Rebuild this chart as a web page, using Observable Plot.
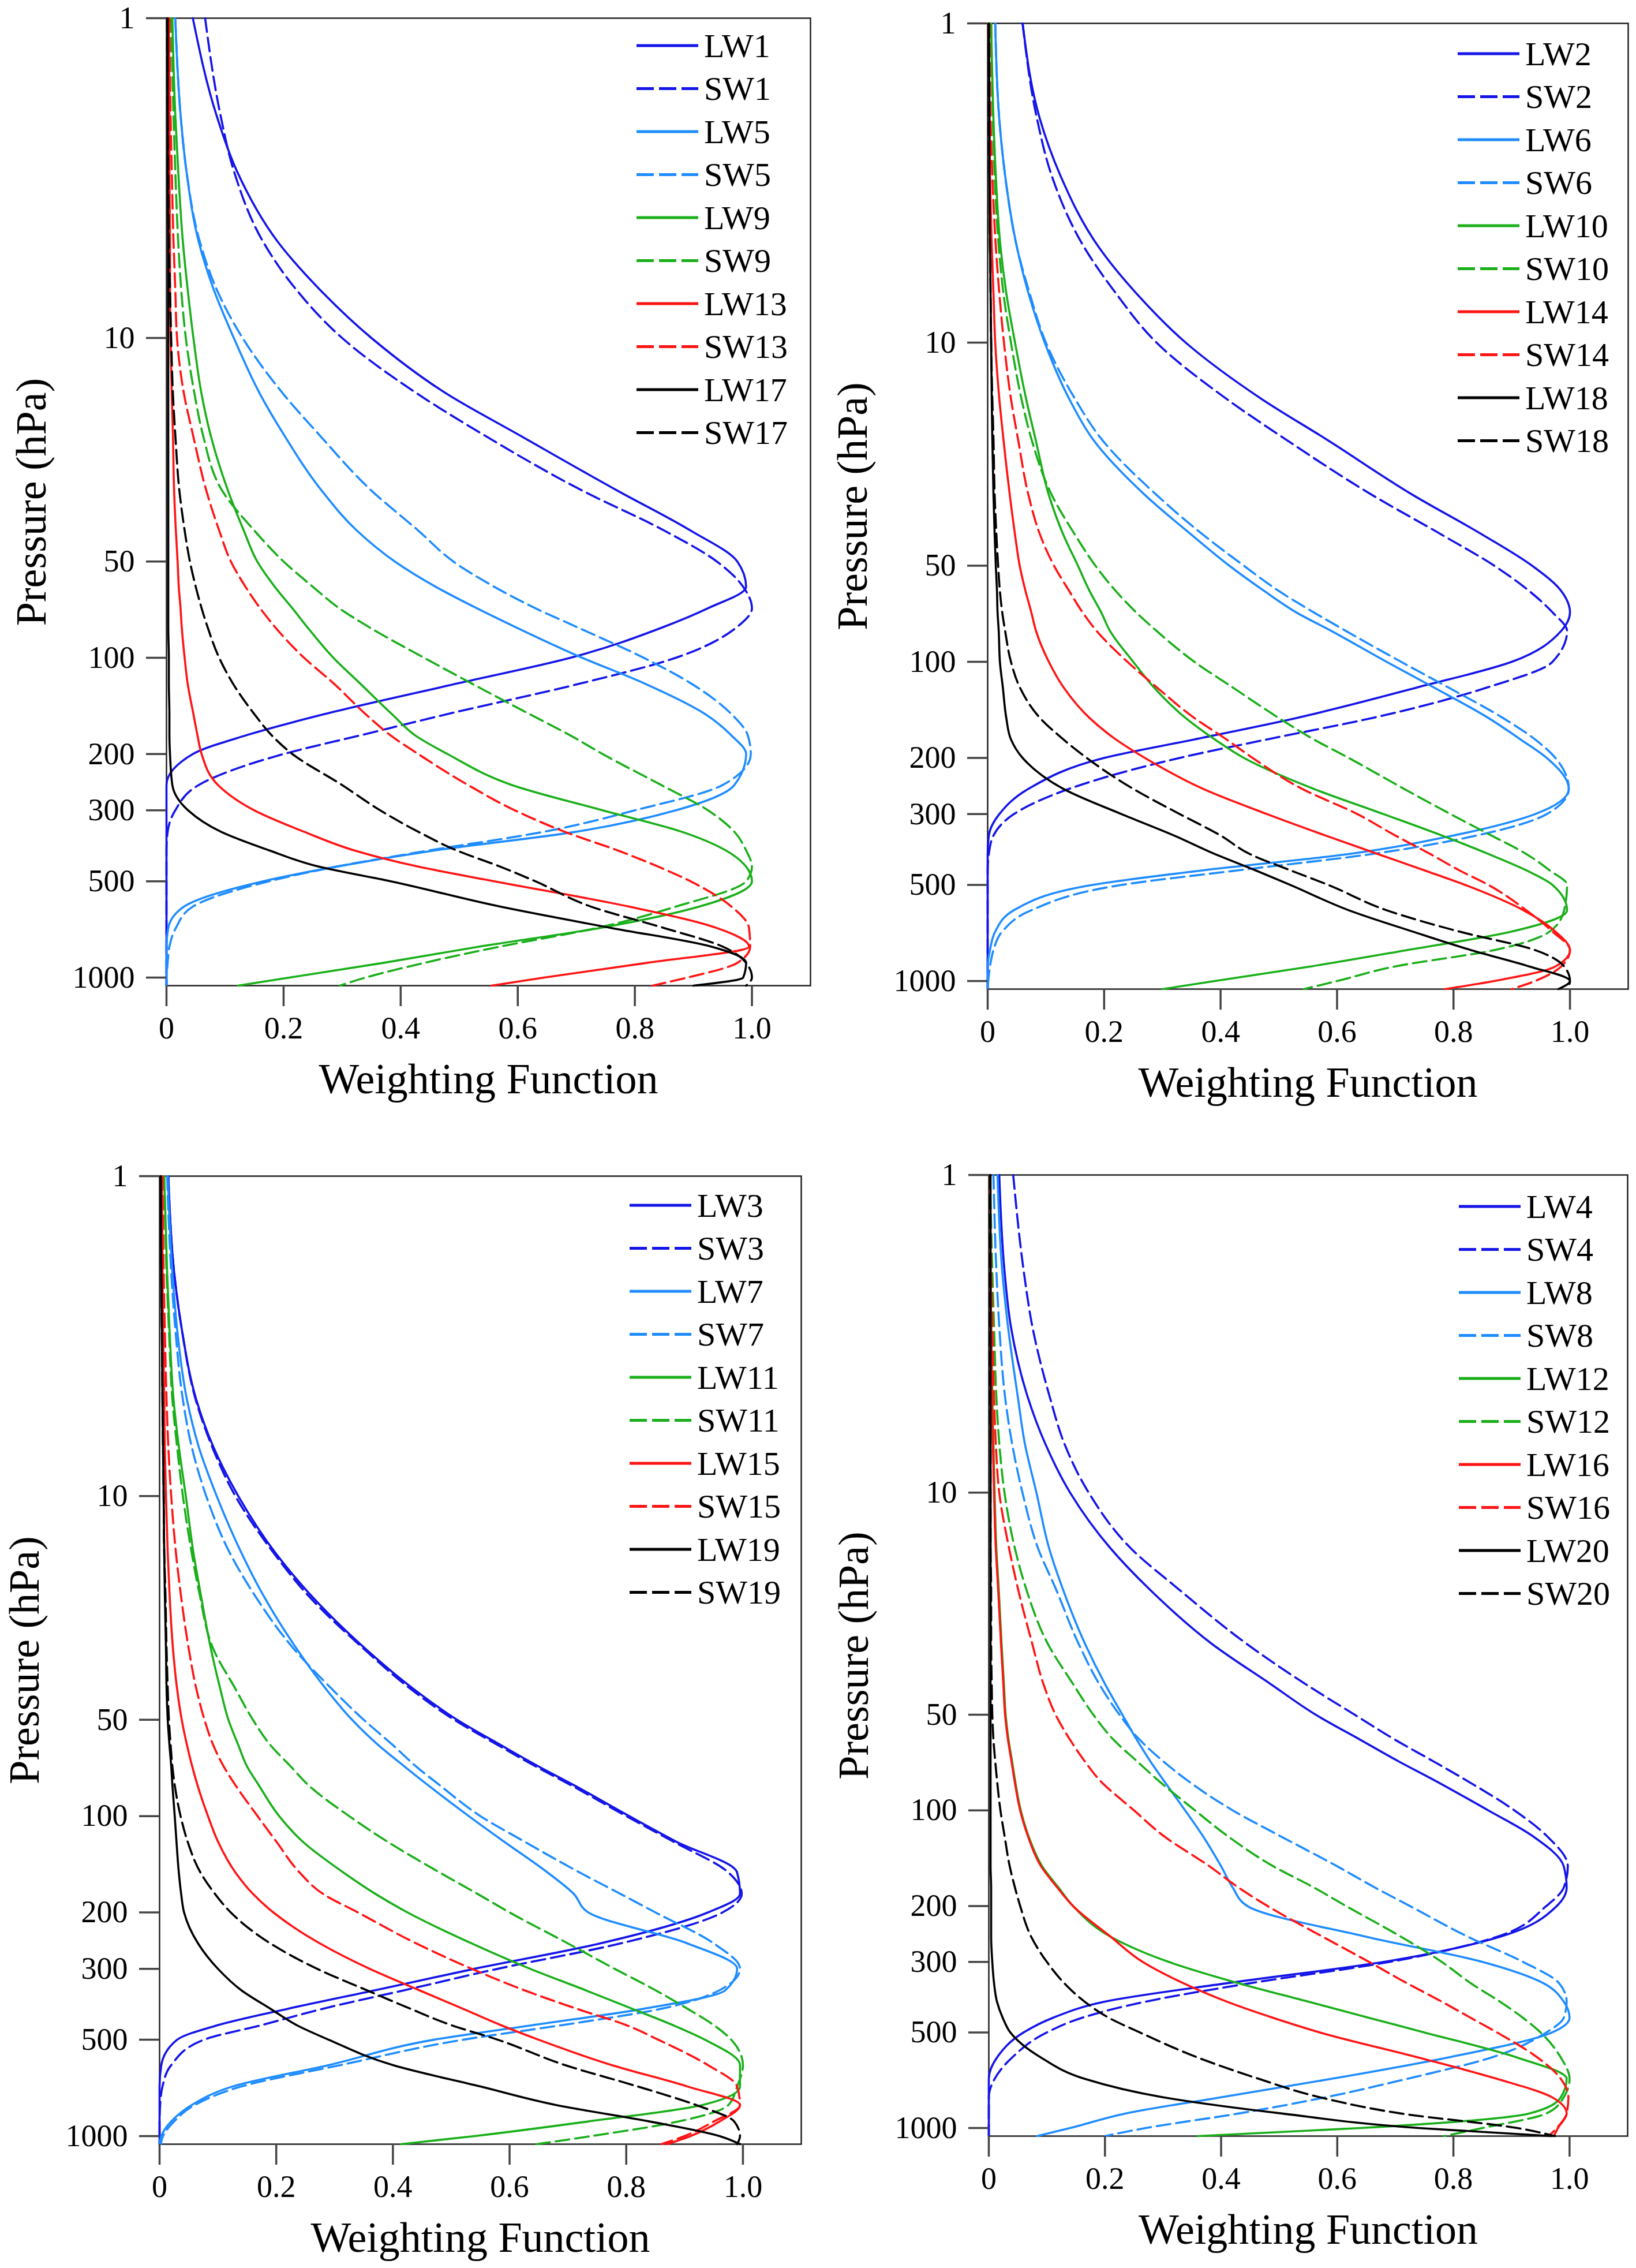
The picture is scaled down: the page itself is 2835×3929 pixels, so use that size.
<!DOCTYPE html>
<html>
<head>
<meta charset="utf-8">
<script src="https://cdn.jsdelivr.net/npm/d3@7"></script>
<script src="https://cdn.jsdelivr.net/npm/@observablehq/plot@0.6"></script>
<style>
html, body { margin: 0; padding: 0; background: #fff; }
#page { position: relative; width: 2835px; height: 3929px; overflow: hidden; background: #fff; }
.panel { position: absolute; }
.panel svg { display: block; }
</style>
</head>
<body>
<div id="page"></div>
<script>
// ---------------- DATA ----------------
// Pressure levels (hPa) shared by every profile
const P = [1,2,3,5,7, 10,15,20,30,40, 50,60,70,80,100, 120,150,175,200,250, 300,350,400,450,500, 600,700,800,900,1000, 1060];

const xTicks = [0, 0.2, 0.4, 0.6, 0.8, 1.0];
const yTicks = [1, 10, 50, 100, 200, 300, 500, 1000];

// Panel 1
const LW1  = [0.045,0.085,0.12,0.19,0.26, 0.35,0.48,0.60,0.77,0.895, 0.975,0.99,0.925,0.85,0.69, 0.50,0.27,0.135,0.045,0, 0,0,0,0,0, 0,0,0,0,0, 0];
const SW1  = [0.066,0.092,0.115,0.165,0.22, 0.30,0.43,0.54,0.71,0.85, 0.94,0.985,1.0,0.975,0.87, 0.71,0.48,0.33,0.20,0.055, 0.015,0.002,0,0,0, 0,0,0,0,0, 0];
const LW5  = [0.015,0.024,0.034,0.055,0.08, 0.115,0.16,0.20,0.265,0.325, 0.39,0.46,0.53,0.595,0.71, 0.815,0.92,0.965,0.99,0.97, 0.87,0.70,0.46,0.29,0.165, 0.03,0.003,0,0,0, 0];
const SW5  = [0.015,0.024,0.034,0.057,0.085, 0.13,0.20,0.26,0.35,0.43, 0.49,0.56,0.63,0.70,0.815, 0.895,0.965,0.993,0.998,0.95, 0.80,0.645,0.45,0.29,0.175, 0.045,0.016,0.005,0.002,0, 0];
const LW9  = [0.01,0.015,0.02,0.028,0.036, 0.046,0.06,0.075,0.105,0.132, 0.155,0.185,0.215,0.24,0.285, 0.33,0.385,0.425,0.48,0.59, 0.745,0.88,0.955,0.99,1.0, 0.91,0.74,0.535,0.37,0.21, 0.122];
const SW9  = [0.008,0.012,0.015,0.02,0.025, 0.033,0.048,0.062,0.095,0.15, 0.20,0.25,0.295,0.345,0.44, 0.52,0.62,0.69,0.745,0.845, 0.925,0.97,0.99,1.0,0.99, 0.87,0.735,0.57,0.44,0.34, 0.296];
const LW13 = [0.004,0.005,0.005,0.006,0.006, 0.007,0.009,0.011,0.013,0.016, 0.019,0.021,0.024,0.026,0.031, 0.036,0.046,0.053,0.06,0.088, 0.15,0.235,0.32,0.43,0.56, 0.79,0.94,0.995,0.82,0.645, 0.555];
const SW13 = [0.005,0.007,0.009,0.012,0.015, 0.018,0.03,0.045,0.068,0.09, 0.11,0.135,0.16,0.185,0.235, 0.285,0.34,0.383,0.43,0.515, 0.595,0.68,0.77,0.84,0.895, 0.965,0.995,0.997,0.975,0.89, 0.83];
const LW17 = [0.002,0.002,0.002,0.003,0.003, 0.003,0.003,0.003,0.003,0.003, 0.003,0.003,0.003,0.003,0.004, 0.004,0.005,0.005,0.006,0.01, 0.037,0.093,0.175,0.26,0.383, 0.57,0.76,0.93,0.99,0.985, 0.90];
const SW17 = [0.001,0.002,0.003,0.004,0.006, 0.008,0.011,0.015,0.022,0.031, 0.04,0.05,0.06,0.07,0.09, 0.113,0.15,0.18,0.215,0.30, 0.365,0.43,0.495,0.57,0.63, 0.725,0.85,0.95,0.99,1.0, 0.99];

// Panel 2
const LW2  = [0.06,0.09,0.125,0.19,0.255, 0.34,0.47,0.58,0.73,0.85, 0.935,0.985,1.0,0.985,0.90, 0.74,0.53,0.355,0.20,0.07, 0.02,0.002,0,0,0, 0,0,0,0,0, 0];
const SW2  = [0.06,0.085,0.11,0.165,0.22, 0.29,0.41,0.51,0.66,0.78, 0.87,0.93,0.97,0.995,0.97, 0.86,0.66,0.48,0.33,0.14, 0.045,0.01,0.002,0,0, 0,0,0,0,0, 0];
const LW6  = [0.013,0.02,0.03,0.05,0.07, 0.098,0.14,0.18,0.27,0.35, 0.415,0.475,0.53,0.59,0.685, 0.765,0.86,0.915,0.96,0.998, 0.94,0.80,0.62,0.37,0.18, 0.045,0.013,0.004,0,0, 0];
const SW6  = [0.013,0.02,0.03,0.05,0.072, 0.10,0.15,0.195,0.29,0.37, 0.44,0.50,0.56,0.615,0.71, 0.79,0.885,0.94,0.975,0.998, 0.96,0.84,0.66,0.43,0.23, 0.075,0.025,0.01,0.004,0.001, 0];
const LW10 = [0.006,0.01,0.014,0.022,0.032, 0.047,0.066,0.082,0.105,0.13, 0.155,0.175,0.195,0.21,0.25, 0.285,0.34,0.39,0.44,0.56, 0.68,0.78,0.86,0.925,0.97, 0.995,0.90,0.72,0.555,0.39, 0.30];
const SW10 = [0.006,0.009,0.012,0.019,0.027, 0.04,0.058,0.075,0.11,0.15, 0.185,0.22,0.255,0.29,0.355, 0.42,0.50,0.56,0.62,0.715, 0.795,0.865,0.925,0.965,0.995, 0.99,0.965,0.87,0.70,0.60, 0.543];
const LW14 = [0.002,0.003,0.004,0.007,0.01, 0.013,0.02,0.027,0.038,0.047, 0.055,0.065,0.075,0.083,0.105, 0.13,0.175,0.22,0.27,0.37, 0.48,0.58,0.67,0.75,0.82, 0.92,0.975,1.0,0.975,0.87, 0.785];
const SW14 = [0.003,0.005,0.008,0.014,0.02, 0.028,0.04,0.052,0.07,0.09, 0.114,0.14,0.163,0.187,0.24, 0.29,0.355,0.41,0.455,0.54, 0.635,0.70,0.76,0.81,0.86, 0.925,0.97,1.0,0.985,0.94, 0.90];
const LW18 = [0.002,0.003,0.003,0.004,0.005, 0.006,0.007,0.008,0.01,0.012, 0.014,0.016,0.017,0.019,0.021, 0.026,0.032,0.04,0.06,0.13, 0.23,0.32,0.39,0.46,0.52, 0.62,0.73,0.83,0.93,1.0, 0.98];
const SW18 = [0.002,0.002,0.003,0.004,0.005, 0.006,0.008,0.01,0.012,0.015, 0.018,0.021,0.025,0.03,0.04, 0.055,0.09,0.13,0.17,0.25, 0.33,0.40,0.45,0.52,0.585, 0.685,0.81,0.94,0.99,1.0, 0.995];

// Panel 3
const LW3  = [0.015,0.025,0.038,0.063,0.092, 0.135,0.198,0.255,0.353,0.435, 0.51,0.585,0.65,0.71,0.805, 0.885,0.99,0.995,0.94,0.755, 0.54,0.37,0.22,0.10,0.03, 0.003,0,0,0,0, 0];
const SW3  = [0.015,0.025,0.038,0.062,0.09, 0.13,0.195,0.25,0.35,0.43, 0.505,0.58,0.645,0.705,0.80, 0.88,0.975,0.998,0.965,0.79, 0.58,0.42,0.28,0.175,0.076, 0.02,0.005,0.001,0,0, 0];
const LW7  = [0.014,0.022,0.03,0.047,0.067, 0.098,0.14,0.175,0.235,0.285, 0.33,0.375,0.42,0.46,0.53, 0.59,0.665,0.71,0.735,0.905, 0.99,0.97,0.83,0.64,0.47, 0.29,0.125,0.055,0.02,0.003, 0];
const SW7  = [0.013,0.02,0.027,0.04,0.055, 0.08,0.12,0.16,0.23,0.295, 0.35,0.40,0.44,0.48,0.55, 0.625,0.72,0.79,0.85,0.95, 0.995,0.96,0.86,0.69,0.52, 0.31,0.14,0.06,0.025,0.006, 0.002];
const LW11 = [0.008,0.013,0.017,0.024,0.033, 0.045,0.058,0.07,0.088,0.104, 0.118,0.135,0.15,0.17,0.205, 0.245,0.315,0.37,0.425,0.535, 0.635,0.73,0.81,0.88,0.935, 0.995,0.995,0.93,0.735,0.54, 0.414];
const SW11 = [0.008,0.012,0.016,0.022,0.03, 0.04,0.055,0.068,0.092,0.13, 0.16,0.19,0.225,0.255,0.325, 0.39,0.48,0.545,0.60,0.70, 0.78,0.85,0.905,0.95,0.98, 1.0,0.99,0.975,0.89,0.74, 0.646];
const LW15 = [0.004,0.005,0.006,0.008,0.009, 0.011,0.014,0.017,0.023,0.03, 0.038,0.047,0.056,0.065,0.083, 0.10,0.13,0.16,0.195,0.275, 0.36,0.445,0.52,0.585,0.65, 0.775,0.905,0.995,0.96,0.91, 0.87];
const SW15 = [0.005,0.007,0.009,0.012,0.015, 0.02,0.028,0.036,0.05,0.063, 0.077,0.092,0.11,0.13,0.168, 0.20,0.24,0.28,0.34,0.44, 0.535,0.625,0.715,0.80,0.855, 0.94,0.99,0.995,0.95,0.90, 0.86];
const LW19 = [0.002,0.003,0.004,0.005,0.006, 0.007,0.008,0.009,0.011,0.012, 0.014,0.017,0.02,0.022,0.026, 0.029,0.033,0.037,0.042,0.066, 0.10,0.14,0.19,0.235,0.29, 0.40,0.55,0.68,0.84,0.96, 0.995];
const SW19 = [0.002,0.003,0.004,0.005,0.006, 0.007,0.008,0.01,0.012,0.014, 0.016,0.019,0.022,0.026,0.036, 0.048,0.07,0.095,0.122,0.19, 0.27,0.355,0.43,0.50,0.58, 0.695,0.82,0.92,0.985,0.995, 0.99];

// Panel 4
const LW4  = [0.018,0.027,0.038,0.067,0.097, 0.14,0.21,0.275,0.385,0.485, 0.563,0.64,0.705,0.765,0.86, 0.935,0.99,0.995,0.978,0.88, 0.68,0.41,0.20,0.11,0.06, 0.014,0,0,0,0, 0];
const SW4  = [0.042,0.06,0.075,0.105,0.13, 0.172,0.245,0.325,0.445,0.545, 0.63,0.70,0.765,0.82,0.905, 0.96,0.997,0.99,0.96,0.875, 0.69,0.45,0.27,0.16,0.10, 0.04,0.01,0,0,0, 0];
const LW8  = [0.015,0.023,0.033,0.05,0.062, 0.082,0.104,0.127,0.166,0.20, 0.23,0.255,0.278,0.30,0.338, 0.368,0.40,0.42,0.445,0.65, 0.85,0.955,0.99,1.0,0.97, 0.79,0.59,0.40,0.235,0.14, 0.083];
const SW8  = [0.008,0.013,0.018,0.028,0.04, 0.058,0.085,0.115,0.155,0.19, 0.225,0.26,0.30,0.34,0.42, 0.50,0.60,0.665,0.725,0.825, 0.92,0.982,0.995,0.99,0.96, 0.865,0.72,0.58,0.43,0.27, 0.20];
const LW12 = [0.002,0.003,0.004,0.006,0.008, 0.01,0.013,0.017,0.022,0.026, 0.029,0.034,0.04,0.045,0.055, 0.068,0.092,0.12,0.145,0.21, 0.31,0.43,0.55,0.655,0.75, 0.91,0.995,0.985,0.93,0.64, 0.36];
const SW12 = [0.002,0.006,0.009,0.013,0.018, 0.027,0.045,0.064,0.102,0.145, 0.18,0.215,0.255,0.29,0.355, 0.41,0.49,0.56,0.615,0.71, 0.78,0.83,0.88,0.92,0.95, 0.985,1.0,0.99,0.96,0.85, 0.784];
const LW16 = [0.002,0.003,0.004,0.005,0.007, 0.009,0.012,0.016,0.021,0.025, 0.028,0.033,0.039,0.044,0.054, 0.067,0.09,0.118,0.145,0.21, 0.265,0.335,0.41,0.49,0.57, 0.74,0.875,0.97,0.995,0.98, 0.973];
const SW16 = [0.002,0.004,0.006,0.009,0.012, 0.018,0.035,0.05,0.075,0.094, 0.115,0.14,0.165,0.19,0.25, 0.30,0.38,0.43,0.48,0.575, 0.655,0.72,0.78,0.83,0.875, 0.945,0.985,0.998,0.995,0.978, 0.964];
const LW20 = [0.003,0.003,0.003,0.003,0.003, 0.003,0.003,0.003,0.003,0.003, 0.003,0.003,0.003,0.003,0.003, 0.003,0.003,0.004,0.004,0.004, 0.006,0.009,0.014,0.024,0.037, 0.09,0.165,0.30,0.505,0.74, 0.97];
const SW20 = [0.002,0.002,0.002,0.002,0.003, 0.003,0.003,0.004,0.004,0.005, 0.006,0.008,0.011,0.014,0.02, 0.027,0.036,0.045,0.054,0.073, 0.10,0.13,0.165,0.207,0.26, 0.36,0.465,0.57,0.71,0.91, 0.975];

const panelNames = [
  ["LW1","SW1","LW5","SW5","LW9","SW9","LW13","SW13","LW17","SW17"],
  ["LW2","SW2","LW6","SW6","LW10","SW10","LW14","SW14","LW18","SW18"],
  ["LW3","SW3","LW7","SW7","LW11","SW11","LW15","SW15","LW19","SW19"],
  ["LW4","SW4","LW8","SW8","LW12","SW12","LW16","SW16","LW20","SW20"]
];
const panelValues = [
  [LW1,SW1,LW5,SW5,LW9,SW9,LW13,SW13,LW17,SW17],
  [LW2,SW2,LW6,SW6,LW10,SW10,LW14,SW14,LW18,SW18],
  [LW3,SW3,LW7,SW7,LW11,SW11,LW15,SW15,LW19,SW19],
  [LW4,SW4,LW8,SW8,LW12,SW12,LW16,SW16,LW20,SW20]
];

// ---------------- STYLE / LAYOUT ----------------
const FONT = "'Liberation Serif','Times New Roman',Times,serif";
const palette = ["#1414e8", "#1e8cff", "#1aaf1a", "#ff1414", "#000000"];
const layout = [
  {left: 288,  top: 31,   w: 1116, h: 1676, legTop: 48},
  {left: 1711, top: 40,   w: 1110, h: 1673, legTop: 53},
  {left: 276,  top: 2037, w: 1112, h: 1677, legTop: 51},
  {left: 1713, top: 2035, w: 1107, h: 1665, legTop: 55}
];
const M = {l: 300, r: 12, t: 28, b: 210};
const yLabelOffset = 233;   // distance from frame's left edge to the y-title centre

const page = document.getElementById("page");
const fmtX = d => d === 0 ? "0" : d.toFixed(1);

panelNames.forEach((names, k) => {
  const L = layout[k];
  const marks = [Plot.frame({stroke: "#222", strokeWidth: 2.5})];
  names.forEach((name, i) => {
    const vals = panelValues[k][i];
    const data = P.map((p, j) => ({p, v: vals[j], name}));
    marks.push(Plot.lineX(data, {
      x: "v", y: "p",
      stroke: palette[Math.floor(i / 2)],
      strokeWidth: 3.6,
      strokeDasharray: i % 2 ? "24,10" : undefined,
      curve: "monotone-y"
    }));
  });
  marks.push(Plot.axisX({ticks: xTicks, tickFormat: fmtX, tickSize: 36, tickPadding: 17,
    label: null, stroke: "#444", strokeWidth: 3.5, fontSize: 54}));
  marks.push(Plot.axisY({ticks: yTicks, tickFormat: () => "", tickSize: 35,
    label: null, stroke: "#444", strokeWidth: 3.5}));
  marks.push(Plot.text(yTicks, {y: d => d, text: d => String(d), frameAnchor: "left",
    textAnchor: "end", lineAnchor: "middle", dx: -55, fontSize: 54, fontFamily: FONT, fill: "#000"}));
  marks.push(Plot.text(["Weighting Function"], {frameAnchor: "bottom", textAnchor: "middle",
    lineAnchor: "middle", dy: 163, fontSize: 74, fontFamily: FONT, fill: "#000"}));
  marks.push(Plot.text(["Pressure (hPa)"], {frameAnchor: "left", textAnchor: "middle",
    lineAnchor: "middle", dx: -yLabelOffset, rotate: -90, fontSize: 74, fontFamily: FONT, fill: "#000"}));

  const svg = Plot.plot({
    width: M.l + L.w + M.r,
    height: M.t + L.h + M.b,
    marginLeft: M.l, marginRight: M.r, marginTop: M.t, marginBottom: M.b,
    style: {fontFamily: FONT, fontSize: "54px", background: "transparent", maxWidth: "none", overflow: "visible", color: "#000"},
    x: {domain: [0, 1.1]},
    y: {type: "log", domain: [1, 1060], reverse: true},
    marks
  });
  const div = document.createElement("div");
  div.className = "panel";
  div.style.left = (L.left - M.l) + "px";
  div.style.top = (L.top - M.t) + "px";
  div.appendChild(svg);
  page.appendChild(div);

  // legend inside the frame (top-right)
  const leg = d3.create("svg")
    .attr("width", L.w).attr("height", 800)
    .style("position", "absolute").style("left", L.left + "px").style("top", L.top + "px")
    .style("overflow", "visible");
  names.forEach((name, i) => {
    const y = L.legTop + i * 74.5;
    leg.append("line")
      .attr("x1", 815).attr("x2", 922).attr("y1", y).attr("y2", y)
      .attr("stroke", palette[Math.floor(i / 2)]).attr("stroke-width", 5)
      .attr("stroke-dasharray", i % 2 ? "30,9" : null);
    leg.append("text")
      .attr("x", 932).attr("y", y).attr("dy", "0.34em")
      .attr("font-family", FONT).attr("font-size", 58).attr("fill", "#000")
      .text(name);
  });
  page.appendChild(leg.node());
});
</script>
</body>
</html>
